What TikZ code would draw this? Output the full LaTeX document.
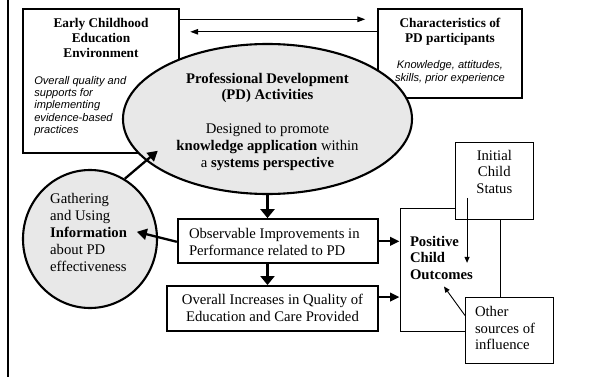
\documentclass[tikz,border=0pt]{standalone}
\usepackage{fontspec}
\setmainfont{Liberation Serif}
\newfontfamily\notefam{Liberation Sans}
\usetikzlibrary{arrows.meta,calc,shapes.geometric}
\definecolor{bubblegray}{gray}{0.91}

\begin{document}
\begin{tikzpicture}[x=1pt,y=-1pt,
  body/.style={font=\fontsize{14.7}{16.8}\selectfont, inner sep=0pt, outer sep=0pt},
  bodybf/.style={font=\bfseries\fontsize{14.7}{16.8}\selectfont, inner sep=0pt, outer sep=0pt},
  headline/.style={font=\bfseries\fontsize{13.3}{15}\selectfont, inner sep=0pt, outer sep=0pt, align=center},
  note/.style={font=\notefam\itshape\fontsize{11.1}{12.4}\selectfont, inner sep=0pt, outer sep=0pt},
  box/.style={draw, rectangle, fill=white, inner sep=0pt},
  bubble/.style={draw, ellipse, fill=bubblegray, line width=2.1pt, inner sep=0pt},
  thinarr/.style={-{Triangle[length=8pt,width=5.5pt]}, line width=1.3pt},
  bigarr/.style={-{Triangle[length=9pt,width=14pt]}, line width=2.3pt},
  slantarr/.style={-{Triangle[length=10pt,width=11pt]}, line width=2.3pt},
  sidearr/.style={-{Triangle[length=9.5pt,width=8.5pt]}, line width=2.3pt},
  finearr/.style={-{Triangle[length=6pt,width=5pt]}, line width=0.9pt}
]
\useasboundingbox (0,0) rectangle (591,377);

% frame rule on the left
\draw[line width=2.3pt] (8,0) -- (8,377);

% context boxes at the top (text nodes are placed by the baseline of their last line)
\node[box, line width=1.4pt, minimum width=156pt, minimum height=144pt] (early) at (101,81) {};
\node[box, line width=1.4pt, minimum width=144pt, minimum height=89pt] (chars) at (450,53.5) {};
\node[headline, anchor=base] (earlyhd) at (101,57.3) {Early Childhood\\Education\\Environment};
\node[note, anchor=base west, align=left] (earlynt) at (34.3,133.6) {Overall quality and\\supports for\\implementing\\evidence-based\\practices};
\node[headline, anchor=base] (charshd) at (450,42.3) {Characteristics of\\PD participants};
\node[note, anchor=base, align=center] (charsnt) at (450,81.4) {Knowledge, attitudes,\\skills, prior experience};

% two-way link between environment and participants
\draw[thinarr] ($(early.north east)+(0,11)$) -- ($(chars.north west)+(-12,11)$);
\draw[thinarr] ($(chars.north west)+(0,23.5)$) -- ($(early.north east)+(10.5,23.5)$);

% central PD activities
\node[bubble, minimum width=289pt, minimum height=150pt] (pd) at (267.5,119) {};
\node[body, anchor=base, align=center] (pdtxt) at (267.5,167)
  {\textbf{Professional Development}\\\textbf{(PD) Activities}\\[16.8pt]Designed to promote\\\textbf{knowledge application} within\\a \textbf{systems perspective}};

% feedback loop
\node[bubble, minimum width=134pt, minimum height=138pt] (gath) at (90,239) {};
\node[font=\fontsize{14.7}{17}\selectfont, inner sep=0pt, anchor=base west, align=left] (gathtxt) at (50,271)
  {Gathering\\and Using\\\textbf{Information}\\about PD\\effectiveness};

% performance and quality
\node[box, line width=2.3pt, minimum width=200pt, minimum height=44pt] (obs) at (278,241.3) {};
\node[body, anchor=base west, align=left] (obstxt) at (189,255.1) {Observable Improvements in\\Performance related to PD};
\node[box, line width=1.8pt, minimum width=211.3pt, minimum height=44.7pt] (overall) at (272.3,308.3) {};
\node[body, anchor=base, align=center] (overalltxt) at (272.5,321.3) {Overall Increases in Quality of\\Education and Care Provided};

% outcomes and outside influences
\node[box, line width=1pt, minimum width=100pt, minimum height=123pt] (pos) at (450,269.5) {};
\node[bodybf, anchor=base west, align=left] (postxt) at (410,279.6) {Positive\\Child\\Outcomes};
\node[box, line width=1pt, minimum width=77.5pt, minimum height=77.3pt] (init) at (494.3,180.7) {};
\node[body, anchor=base, align=center] (inittxt) at (494.3,193.6) {Initial\\Child\\Status};
\node[box, line width=1pt, minimum width=88pt, minimum height=66pt] (other) at (509,330) {};
\node[body, anchor=base west, align=left] (othertxt) at (475,349.9) {Other\\sources of\\influence};

% connectors
\draw[slantarr] (gath.60) -- ++(33,-28);
\draw[bigarr] (pd.south) -- (pd.south |- obs.north);
\draw[bigarr] (obs.south -| pd.south) -- (overall.north -| pd.south);
\draw[slantarr] ($(obs.west)+(0,0.5)$) -- ++(-40,-10);
\draw[sidearr] (obs.east) -- (obs.east -| pos.west);
\coordinate (ovout) at ($(overall.north east)+(0,12)$);
\draw[sidearr] (ovout) -- (ovout -| pos.west);
\coordinate (initsrc) at ($(init.south west)+(12,-22)$);
\draw[finearr] (initsrc) -- ++(0,65);
\draw[finearr] ($(other.north west)+(0.5,19)$) -- ++(-21,-29);
\end{tikzpicture}
\end{document}
